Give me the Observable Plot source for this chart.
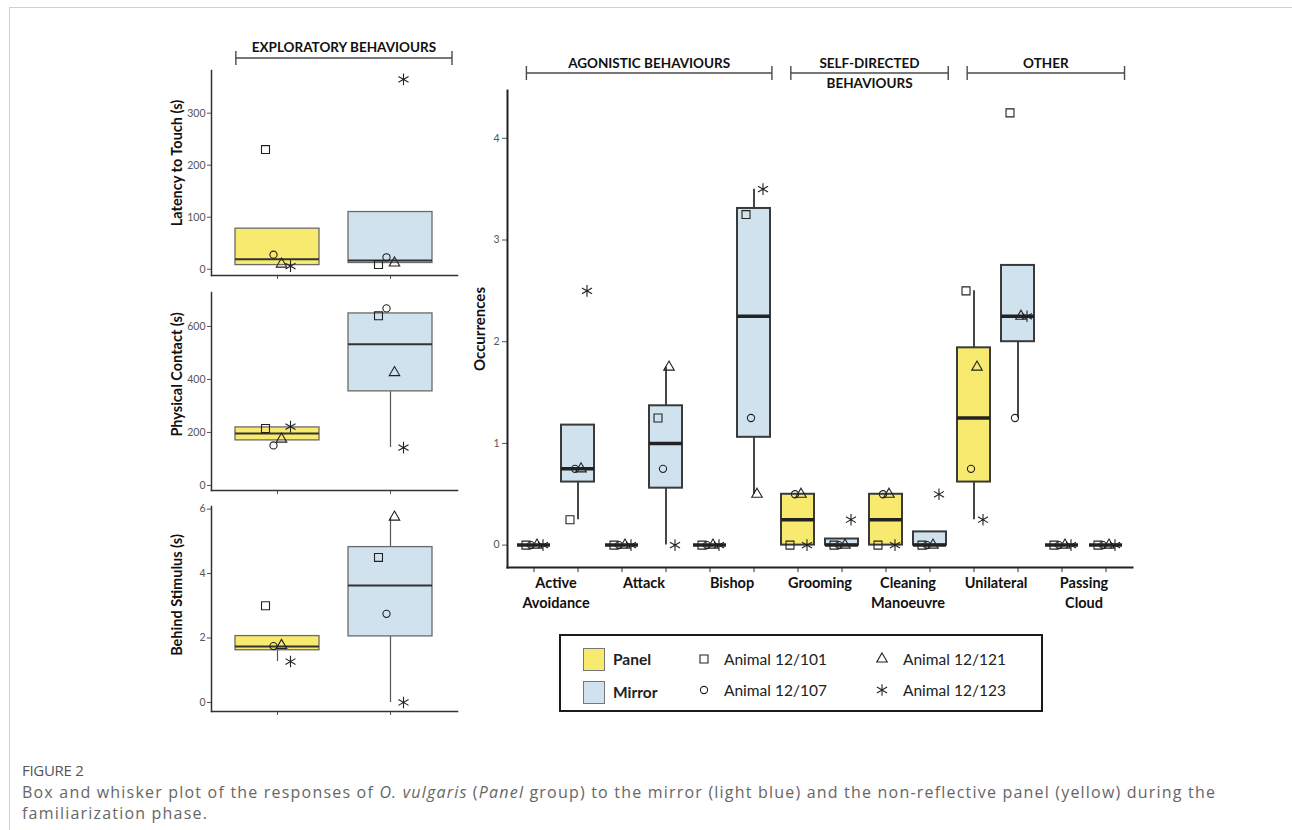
<!DOCTYPE html>
<html><head><meta charset="utf-8">
<script src="https://cdn.jsdelivr.net/npm/d3@7"></script>
<script src="https://cdn.jsdelivr.net/npm/@observablehq/plot@0.6"></script>
<style>
html,body{margin:0;padding:0;background:#fff;}
#page{position:relative;width:1292px;height:830px;overflow:hidden;font-family:Lato,sans-serif;}
#card{position:absolute;left:9px;top:7px;width:1300px;height:840px;border-left:1px solid #cfcfcf;border-top:1px solid #cfcfcf;}
.chart{position:absolute;}
#legend{position:absolute;left:559px;top:634px;width:480px;height:74px;border:2px solid #1a1a1a;}
#legend .it{position:absolute;line-height:20px;font-size:15.5px;color:#222;white-space:nowrap;}
#legend .sw{position:absolute;width:20px;height:21px;border:1px solid #777;}
#legend svg{position:absolute;}
#cap{position:absolute;left:22px;top:760px;font-family:"Open Sans",sans-serif;color:#666;white-space:nowrap;}
#cap .fig{font-size:15px;color:#555;letter-spacing:-0.3px;line-height:20px;}
#cap .txt{font-size:16px;line-height:21px;height:21px;letter-spacing:1.2px;}
#cap .l1{margin-top:2px;}
</style></head>
<body><div id="page"><div id="card"></div></div>
<script>
// ---------- data ----------
const groups = ["Panel", "Mirror"];
const groupColors = ["#F8EA6E", "#CFE2EE"];
const animals = ["Animal 12/101", "Animal 12/107", "Animal 12/121", "Animal 12/123"];
const animalSymbols = ["square", "circle", "triangle", "asterisk"];
const symbolRadius = {square: 4.5, circle: 3.6, triangle: 3.9, asterisk: 5.5};

// Exploratory behaviours (left panels)
const exploreHeader = "EXPLORATORY BEHAVIOURS";
const exploreTitles = ["Latency to Touch (s)", "Physical Contact (s)", "Behind Stimulus (s)"];
const exploreTicks = [[0, 100, 200, 300], [0, 200, 400, 600], [0, 2, 4, 6]];
// values per animal (12/101, 12/107, 12/121, 12/123)
const latencyPanel = [230, 28, 10, 6];
const latencyMirror = [9, 23, 12, 365];
const contactPanel = [215, 151, 175, 222];
const contactMirror = [640, 668, 426, 143];
const behindPanel = [3.0, 1.75, 1.77, 1.27];
const behindMirror = [4.5, 2.75, 5.75, 0];
// box stats: [q1, median, q3, whisker low, whisker high]
const latencyBoxPanel = [8, 19, 78, null, null];
const latencyBoxMirror = [12, 17, 110, null, null];
const contactBoxPanel = [170, 196, 219, null, null];
const contactBoxMirror = [355, 533, 649, 143, null];
const behindBoxPanel = [1.62, 1.74, 2.06, 1.27, null];
const behindBoxMirror = [2.05, 3.63, 4.82, 0, 5.72];

// Occurrences (right panel)
const behaviours = ["Active\nAvoidance", "Attack", "Bishop", "Grooming", "Cleaning\nManoeuvre", "Unilateral", "Passing\nCloud"];
const behaviourGroups = ["AGONISTIC BEHAVIOURS", "SELF-DIRECTED\nBEHAVIOURS", "OTHER"];
const behaviourGroupSpans = [[0, 2], [3, 4], [5, 6]];
const occTicks = [0, 1, 2, 3, 4];
const occPanel = [[0,0,0,0],[0,0,0,0],[0,0,0,0],[0,0.5,0.5,0],[0,0.5,0.5,0],[2.5,0.75,1.75,0.25],[0,0,0,0]];
const occMirror = [[0.25,0.75,0.75,2.5],[1.25,0.75,1.75,0],[3.25,1.25,0.5,3.5],[0,0,0,0.25],[0,0,0,0.5],[4.25,1.25,2.25,2.25],[0,0,0,0]];
const occBoxPanel = [[0,0,0,null,null],[0,0,0,null,null],[0,0,0,null,null],[0,0.25,0.5,null,null],[0,0.25,0.5,null,null],[0.62,1.25,1.94,0.25,2.5],[0,0,0,null,null]];
const occBoxMirror = [[0.62,0.75,1.18,0.25,null],[0.56,1.0,1.37,0,1.75],[1.06,2.25,3.31,0.5,3.5],[0,0,0.06,null,null],[0,0,0.13,null,null],[2.0,2.25,2.75,1.25,null],[0,0,0,null,null]];

// ---------- helpers ----------
const page = document.getElementById("page");
function place(el, left, top) {
  const d = document.createElement("div");
  d.className = "chart"; d.style.left = left + "px"; d.style.top = top + "px";
  d.appendChild(el); page.appendChild(d); return d;
}
function boxRows(key, box) {
  return {key, q1: box[0], med: box[1], q3: box[2], lo: box[3], hi: box[4]};
}
function whiskerRows(rows) {
  const w = [];
  rows.forEach(b => {
    if (b.lo != null) w.push({key: b.key, y1: b.lo, y2: b.q1});
    if (b.hi != null) w.push({key: b.key, y1: b.q3, y2: b.hi});
  });
  return w;
}
function addText(g, x, y, str, attrs) {
  const lines = str.split("\n");
  const t = g.append("text").attr("x", x).attr("y", y);
  Object.entries(attrs).forEach(([k, v]) => t.attr(k, v));
  lines.forEach((l, i) => t.append("tspan").attr("x", x).attr("dy", i === 0 ? 0 : "1.45em").text(l));
}
function bracket(svg, x1, x2, y, label, ty) {
  const g = svg.append("g").attr("stroke", "#4a4a4a").attr("stroke-width", 1.4);
  g.append("line").attr("x1", x1).attr("x2", x2).attr("y1", y).attr("y2", y);
  g.append("line").attr("x1", x1).attr("x2", x1).attr("y1", y - 7).attr("y2", y + 7);
  g.append("line").attr("x1", x2).attr("x2", x2).attr("y1", y - 7).attr("y2", y + 7);
  addText(svg, (x1 + x2) / 2, ty, label, {"text-anchor": "middle", "font-weight": "bold", "font-size": 13.5, "fill": "#111", "font-family": "Lato, sans-serif"});
}
function dotMarks(pts, dxs) {
  return animalSymbols.map((s, ai) => Plot.dot(pts.filter(d => d.animal === ai), {
    x: "key", y: "value", symbol: s, r: symbolRadius[s], fill: "none", stroke: "#222", strokeWidth: 1.1, dx: dxs[ai]
  }));
}

// ---------- left panels ----------
const exploreValues = [[latencyPanel, latencyMirror], [contactPanel, contactMirror], [behindPanel, behindMirror]];
const exploreBoxes = [[latencyBoxPanel, latencyBoxMirror], [contactBoxPanel, contactBoxMirror], [behindBoxPanel, behindBoxMirror]];
const exploreDomains = [[-12, 382], [-19, 728], [-0.28, 6.08]];
const exploreDims = [{top: 30, h: 255, mt: 40, tdy: -10}, {top: 282, h: 218, mt: 10, tdy: -17}, {top: 496, h: 225, mt: 10, tdy: -14}];
const leftDx = [-12, -4, 4, 13];

exploreTitles.forEach((title, i) => {
  const dims = exploreDims[i];
  const pts = [];
  groups.forEach((g, gi) => exploreValues[i][gi].forEach((v, ai) => pts.push({key: g, animal: ai, value: v})));
  const boxes = groups.map((g, gi) => boxRows(g, exploreBoxes[i][gi]));
  const W = 317, ML = 61, MR = 10;
  const svg = Plot.plot({
    width: W, height: dims.h, marginLeft: ML, marginRight: MR, marginTop: dims.mt, marginBottom: 10,
    style: {fontFamily: "Lato, sans-serif", background: "transparent", overflow: "visible"},
    x: {type: "band", domain: groups, paddingInner: 0.254, paddingOuter: 0.21, axis: null},
    y: {domain: exploreDomains[i], axis: null},
    color: {domain: groups, range: groupColors},
    marks: [
      Plot.axisY({ticks: exploreTicks[i], tickFormat: d => String(d), tickSize: 4, tickPadding: 2, fontSize: 10.5, color: "#555", label: null}),
      Plot.axisX({tickSize: 4, tickFormat: () => "", color: "#555", label: null}),
      Plot.ruleX(whiskerRows(boxes), {x: "key", y1: "y1", y2: "y2", stroke: "#555", strokeWidth: 1.2}),
      Plot.barY(boxes, {x: "key", y1: "q1", y2: "q3", fill: "key", stroke: "#6a6a6a", strokeWidth: 1.3}),
      Plot.tickY(boxes, {x: "key", y: "med", stroke: "#333", strokeWidth: 2}),
      ...dotMarks(pts, leftDx),
      Plot.frame({anchor: "left", stroke: "#333", strokeWidth: 1.5}),
      Plot.frame({anchor: "bottom", stroke: "#333", strokeWidth: 1.5}),
      Plot.text([title], {frameAnchor: "left", rotate: -90, dx: -34, dy: dims.tdy, fontWeight: "bold", fontSize: 14.5, fill: "#111", textAnchor: "middle", lineAnchor: "middle"})
    ]
  });
  if (i === 0) {
    const xb = d3.scaleBand(groups, [ML, W - MR]).paddingInner(0.254).paddingOuter(0.21);
    bracket(d3.select(svg), xb("Panel") + 1, W - MR - 5, 28, exploreHeader, 22);
  }
  place(svg, 150, dims.top);
});

// ---------- right panel ----------
const keys = behaviours.flatMap(b => groups.map(g => b + "|" + g));
const occPts = [], occBoxes = [];
behaviours.forEach((b, bi) => {
  groups.forEach((g, gi) => {
    const vals = gi === 0 ? occPanel[bi] : occMirror[bi];
    vals.forEach((v, ai) => occPts.push({key: b + "|" + g, group: g, animal: ai, value: v}));
    const r = boxRows(b + "|" + g, gi === 0 ? occBoxPanel[bi] : occBoxMirror[bi]);
    r.group = g;
    occBoxes.push(r);
  });
});
const RW = 722, RML = 87, RMR = 10, RMT = 60, RH = 587, RMB = 50;
const pi = 0.25, po = 0.215;
const step = (RW - RML - RMR) / (keys.length - pi + 2 * po);
const rightDx = [-8, -3, 3, 9];
const right = Plot.plot({
  width: RW, height: RH, marginLeft: RML, marginRight: RMR, marginTop: RMT, marginBottom: RMB,
  style: {fontFamily: "Lato, sans-serif", background: "transparent", overflow: "visible"},
  x: {type: "band", domain: keys, paddingInner: pi, paddingOuter: po, axis: null},
  y: {domain: [-0.22, 4.47], axis: null},
  color: {domain: groups, range: groupColors},
  marks: [
    Plot.axisY({ticks: occTicks, tickFormat: d => String(d), tickSize: 5, tickPadding: 3, fontSize: 10.5, color: "#555", label: null}),
    Plot.axisX({tickSize: 5, tickFormat: () => "", color: "#333", label: null}),
    Plot.axisX(behaviours.map(b => b + "|Panel"), {tickSize: 0, tickPadding: 6, dx: step / 2, tickFormat: k => k.split("|")[0], fontSize: 14.5, fontWeight: "bold", lineHeight: 1.4, color: "#111", label: null}),
    Plot.ruleX(whiskerRows(occBoxes), {x: "key", y1: "y1", y2: "y2", stroke: "#333", strokeWidth: 1.8}),
    Plot.barY(occBoxes, {x: "key", y1: "q1", y2: "q3", fill: "group", stroke: "#3a3a3a", strokeWidth: 2}),
    Plot.tickY(occBoxes, {x: "key", y: "med", stroke: "#222", strokeWidth: 3.5}),
    ...dotMarks(occPts, rightDx),
    Plot.frame({anchor: "left", stroke: "#222", strokeWidth: 2}),
    Plot.frame({anchor: "bottom", stroke: "#222", strokeWidth: 2}),
    Plot.text(["Occurrences"], {frameAnchor: "left", rotate: -90, dx: -27, fontWeight: "bold", fontSize: 15, fill: "#111", textAnchor: "middle", lineAnchor: "middle"})
  ]
});
{
  const xb = d3.scaleBand(keys, [RML, RW - RMR]).paddingInner(pi).paddingOuter(po);
  const sel = d3.select(right);
  behaviourGroups.forEach((name, gi) => {
    const [a, b] = behaviourGroupSpans[gi];
    const x1 = xb(behaviours[a] + "|Panel") + xb.bandwidth() * 0.3;
    const x2 = xb(behaviours[b] + "|Mirror") + xb.bandwidth() + 2;
    bracket(sel, x1, x2, 43, name, 38);
  });
}
place(right, 420, 30);

// ---------- legend ----------
const legend = document.createElement("div");
legend.id = "legend";
page.appendChild(legend);
groups.forEach((g, gi) => {
  const sw = document.createElement("div");
  sw.className = "sw"; sw.style.left = "22px"; sw.style.top = (12 + gi * 33) + "px"; sw.style.background = groupColors[gi];
  legend.appendChild(sw);
  const t = document.createElement("div");
  t.className = "it"; t.style.left = "52px"; t.style.top = (13 + gi * 33) + "px"; t.style.fontWeight = "bold"; t.textContent = g;
  legend.appendChild(t);
});
const symMap = {square: d3.symbolSquare, circle: d3.symbolCircle, triangle: d3.symbolTriangle, asterisk: d3.symbolAsterisk};
animals.forEach((a, ai) => {
  const rowIdx = ai === 0 || ai === 2 ? 0 : 1;
  const colIdx = ai === 0 || ai === 1 ? 0 : 1;
  const sx = colIdx === 0 ? 143 : 321, tx = colIdx === 0 ? 163 : 342;
  const cy = rowIdx === 0 ? 23 : 54;
  const s = d3.select(legend).append("svg").attr("width", 16).attr("height", 16)
    .style("left", (sx - 8) + "px").style("top", (cy - 8) + "px");
  const r = symbolRadius[animalSymbols[ai]];
  s.append("path").attr("transform", "translate(8,8)")
    .attr("d", d3.symbol(symMap[animalSymbols[ai]], Math.PI * r * r)())
    .attr("fill", "none").attr("stroke", "#222").attr("stroke-width", 1.1);
  const t = document.createElement("div");
  t.className = "it"; t.style.left = tx + "px"; t.style.top = (cy - 10) + "px"; t.textContent = a;
  legend.appendChild(t);
});

// ---------- caption ----------
const cap = document.createElement("div");
cap.id = "cap";
cap.innerHTML = '<div class="fig">FIGURE 2</div><div class="txt l1">Box and whisker plot of the responses of <i>O. vulgaris</i> (<i>Panel</i> group) to the mirror (light blue) and the non-reflective panel (yellow) during the</div><div class="txt">familiarization phase.</div>';
page.appendChild(cap);
</script></body></html>
